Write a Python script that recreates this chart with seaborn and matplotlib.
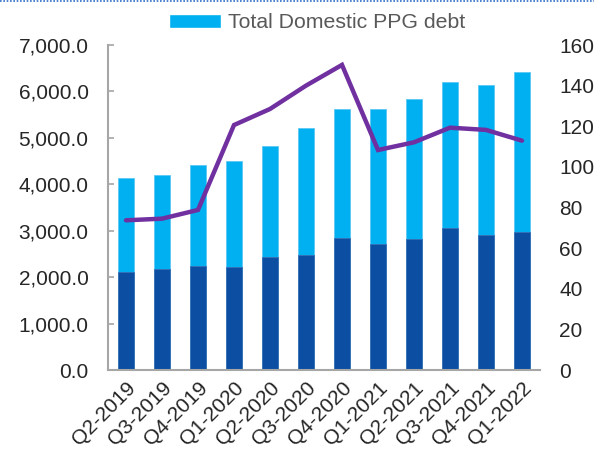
import numpy as np
import pandas as pd
import matplotlib
matplotlib.use("Agg")
import matplotlib.pyplot as plt
import matplotlib.ticker as mticker
from matplotlib.patches import Patch
from matplotlib.lines import Line2D
import seaborn as sns

# Values
quarters = ["Q2-2019", "Q3-2019", "Q4-2019", "Q1-2020", "Q2-2020", "Q3-2020",
            "Q4-2020", "Q1-2021", "Q2-2021", "Q3-2021", "Q4-2021", "Q1-2022"]
total_domestic = [4130, 4200, 4410, 4500, 4825, 5205, 5615, 5615, 5830, 6205, 6130, 6420]
lower_part = [2105, 2170, 2245, 2220, 2440, 2485, 2850, 2705, 2815, 3065, 2915, 2980]
line_values = [73.7, 74.5, 78.8, 120.6, 128.5, 140.0, 150.2, 108.3, 112.1, 119.3, 118.2, 112.9]

df = pd.DataFrame({"quarter": quarters, "total": total_domestic,
                   "lower": lower_part, "ratio": line_values})

sns.set_style("white")
plt.rcParams["font.family"] = ["Liberation Sans", "DejaVu Sans"]

light_blue = "#00B0F0"
dark_blue = "#0B4EA2"
purple = "#7030A0"
grey = "#A6A6A6"
fs = 15

fig = plt.figure(figsize=(5.94, 4.51), dpi=100)
ax = fig.add_axes([108 / 594, 1 - 370 / 451, 432 / 594, 325 / 451])

sns.barplot(data=df, x="quarter", y="total", color=light_blue, width=0.42,
            saturation=1, ax=ax, edgecolor="#5BC8F5", linewidth=0.6)
sns.barplot(data=df, x="quarter", y="lower", color=dark_blue, width=0.42,
            saturation=1, ax=ax, edgecolor="#3A6FB5", linewidth=0.6)

ax.set_xlim(-0.5, len(quarters) - 0.5)
ax.set_ylim(0, 7000)
ax.yaxis.set_major_locator(mticker.MultipleLocator(1000))
ax.yaxis.set_major_formatter(mticker.FuncFormatter(lambda v, p: f"{v:,.1f}"))
ax.set_xlabel("")
ax.set_ylabel("")

for side in ["top", "right"]:
    ax.spines[side].set_visible(False)
for side in ["left", "bottom"]:
    ax.spines[side].set_color(grey)
    ax.spines[side].set_linewidth(1.5)

ax.set_xticks(np.arange(-0.5, len(quarters), 1.0), minor=True)
ax.tick_params(axis="x", which="major", length=0, pad=6, labelsize=fs)
ax.tick_params(axis="x", which="minor", direction="in", length=4, width=1.2, color=grey)
ax.tick_params(axis="y", direction="in", length=4, width=1.2, color=grey, pad=14,
               labelsize=fs)
plt.setp(ax.get_xticklabels(), rotation=45, ha="right", rotation_mode="anchor")

ax2 = ax.twinx()
sns.lineplot(x=np.arange(len(quarters)), y=df["ratio"], color=purple, linewidth=3.2,
             ax=ax2, solid_joinstyle="miter")
ax2.set_ylim(0, 160)
ax2.yaxis.set_major_locator(mticker.MultipleLocator(20))
ax2.set_ylabel("")
for side in ["top", "right", "left", "bottom"]:
    ax2.spines[side].set_visible(False)
ax2.tick_params(axis="y", length=0, pad=14, labelsize=fs)

fig.legend(handles=[Patch(facecolor=light_blue, label="Total Domestic PPG debt")],
           loc="center", bbox_to_anchor=(317 / 594, 1 - 23 / 451), frameon=False,
           fontsize=15.3, labelcolor="#595959", handlelength=2.45, handleheight=0.6,
           handletextpad=0.33)

# dotted frame line along the top edge
fig.add_artist(Line2D([0, 1], [0.997, 0.997], transform=fig.transFigure,
                      color="#2F6DC6", linestyle=(0, (1, 1)), linewidth=1.2))

fig.savefig("out.png", dpi=100)
